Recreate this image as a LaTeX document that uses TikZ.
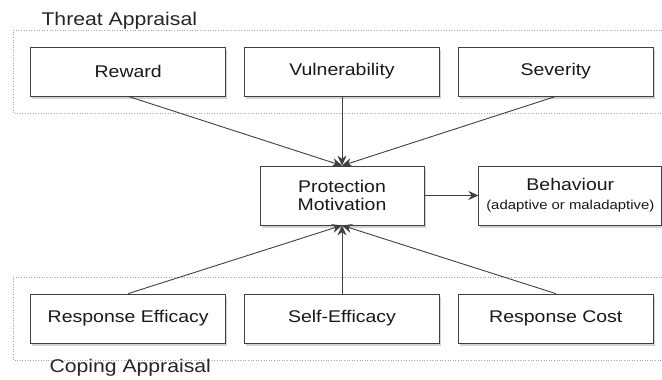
\documentclass[tikz,border=0pt]{standalone}
\usepackage{fontspec}
\setmainfont[FakeStretch=1.15]{Liberation Sans}
\usetikzlibrary{positioning,shadows,arrows.meta}

\begin{document}
\begin{tikzpicture}[x=1bp,y=1bp,>={Stealth[length=10bp,width=9bp]},
  every node/.style={font=\fontsize{17}{20}\selectfont,text=black!90},
  factor/.style={shape=rectangle,draw=black!75,fill=white,line width=0.8bp,minimum width=195bp,minimum height=49bp,drop shadow={shadow xshift=1.5bp,shadow yshift=-2.5bp,opacity=0.35}},
  link/.style={->,draw=black!75,line width=0.9bp},
  group/.style={draw=black!35,dotted,line width=0.6bp},
  title/.style={anchor=west,font=\fontsize{18.5}{22}\selectfont,text=black!85}]
	\useasboundingbox (0,0) rectangle (662,379);
	% appraisal groups
	\draw[group] (662,349) -| (13,266) -- (662,266);
	\draw[group] (662,102) -| (13,19) -- (662,19);
	\node[title] (ta) at (38,358) {Threat Appraisal};
	\node[title] (ca) at (46,11) {Coping Appraisal};

	% create the nodes
	\node[factor] (vul) at (342,307.5) {Vulnerability};
	\node[factor] (rew) [left =18bp of vul] {Reward};
	\node[factor] (sev) [right =18bp of vul] {Severity};
	\node[factor,minimum width=164bp,minimum height=59bp,align=center] (pm) at (342,183.5) {Protection\\[-2bp]Motivation};
	\node[factor,minimum width=183bp,minimum height=59bp,align=center] (beh) [right =54bp of pm] {Behaviour\\[-1bp]{\fontsize{13}{15}\selectfont(adaptive or maladaptive)}};
	\node[factor] (se) at (342,60.5) {Self-Efficacy};
	\node[factor] (re) [left =18bp of se] {Response Efficacy};
	\node[factor] (rc) [right =18bp of se] {Response Cost};

	% connect the nodes
	\draw[link] (rew.south) to (pm.north);
	\draw[link] (vul.south) to (pm.north);
	\draw[link] (sev.south) to (pm.north);
	\draw[link] (re.north) to (pm.south);
	\draw[link] (se.north) to (pm.south);
	\draw[link] (rc.north) to (pm.south);
	\draw[link] (pm) to (beh);
\end{tikzpicture}
\end{document}
